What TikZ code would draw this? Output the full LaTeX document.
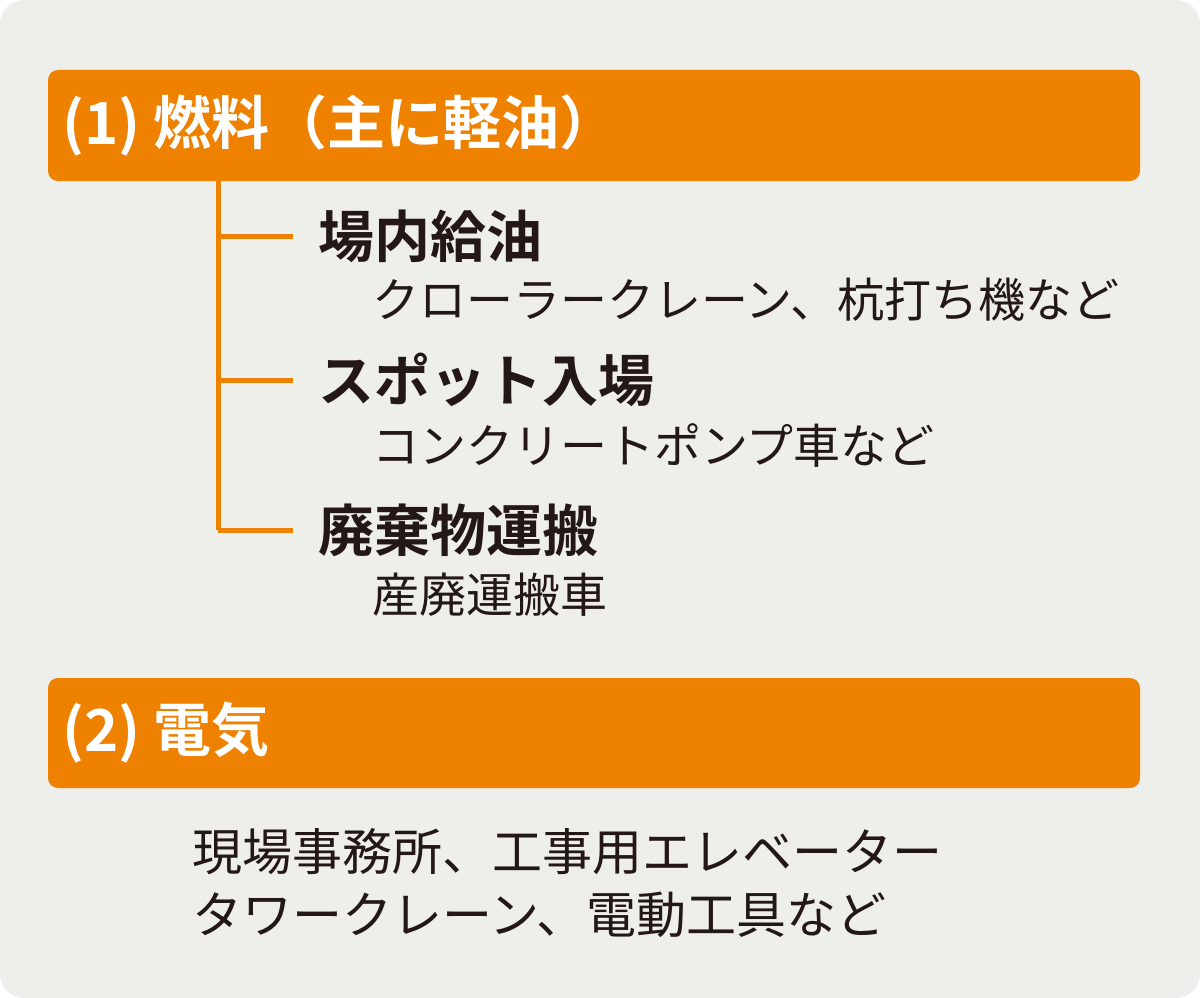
\documentclass[tikz,border=0pt]{standalone}
\usepackage{fontspec}
\setmainfont{Noto Sans CJK JP}
\newfontfamily\jpb{Noto Sans CJK JP Bold}
\definecolor{bg}{HTML}{EEEEEA}
\definecolor{org}{HTML}{EE8100}
\definecolor{ink}{HTML}{231815}
\tikzset{x=1pt,y=-1pt,
 hdr/.style={fill=org,rounded corners=10pt},
 hdrtxt/.style={anchor=west,text=white,font=\fontsize{58}{58}\jpb,inner sep=0},
 item/.style={anchor=west,text=ink,font=\fontsize{56}{56}\jpb,inner sep=0},
 sub/.style={anchor=west,text=ink,font=\fontsize{47}{47}\selectfont,inner sep=0},
 tree/.style={draw=org,line width=5pt}}
\begin{document}
\begin{tikzpicture}
\useasboundingbox (0,0) rectangle (1200,998);
\fill[white] (0,0) rectangle (1200,998);
\fill[bg,rounded corners=24pt] (0,0) rectangle (1200,998);
\fill[hdr] (48,70) rectangle (1140,181);
\node[hdrtxt] (h1) at (62,125) {(1) 燃料（主に軽油）};
\coordinate (top) at (218,181);
\coordinate (t1) at (218,236);
\coordinate (t2) at (218,380);
\coordinate (t3) at (218,530);
\draw[tree] (top) -- (t3);
\node[item] (a) at (318,236) {場内給油};
\node[item] (b) at (318,380) {スポット入場};
\node[item] (c) at (318,530) {廃棄物運搬};
\draw[tree] (t1) -- (293,236);
\draw[tree] (t2) -- (293,380);
\draw[tree] (t3) -- (293,530);
\node[sub] (a1) at (372,300) {クローラークレーン、杭打ち機など};
\node[sub] (b1) at (372,445) {コンクリートポンプ車など};
\node[sub] (c1) at (372,595) {産廃運搬車};
\fill[hdr] (48,678) rectangle (1140,788);
\node[hdrtxt] (h2) at (62,733) {(2) 電気};
\node[sub,font=\fontsize{50}{50}\selectfont] (d1) at (192,852) {現場事務所、工事用エレベーター};
\node[sub,font=\fontsize{50}{50}\selectfont] (d2) at (192,915) {タワークレーン、電動工具など};
\end{tikzpicture}
\end{document}
